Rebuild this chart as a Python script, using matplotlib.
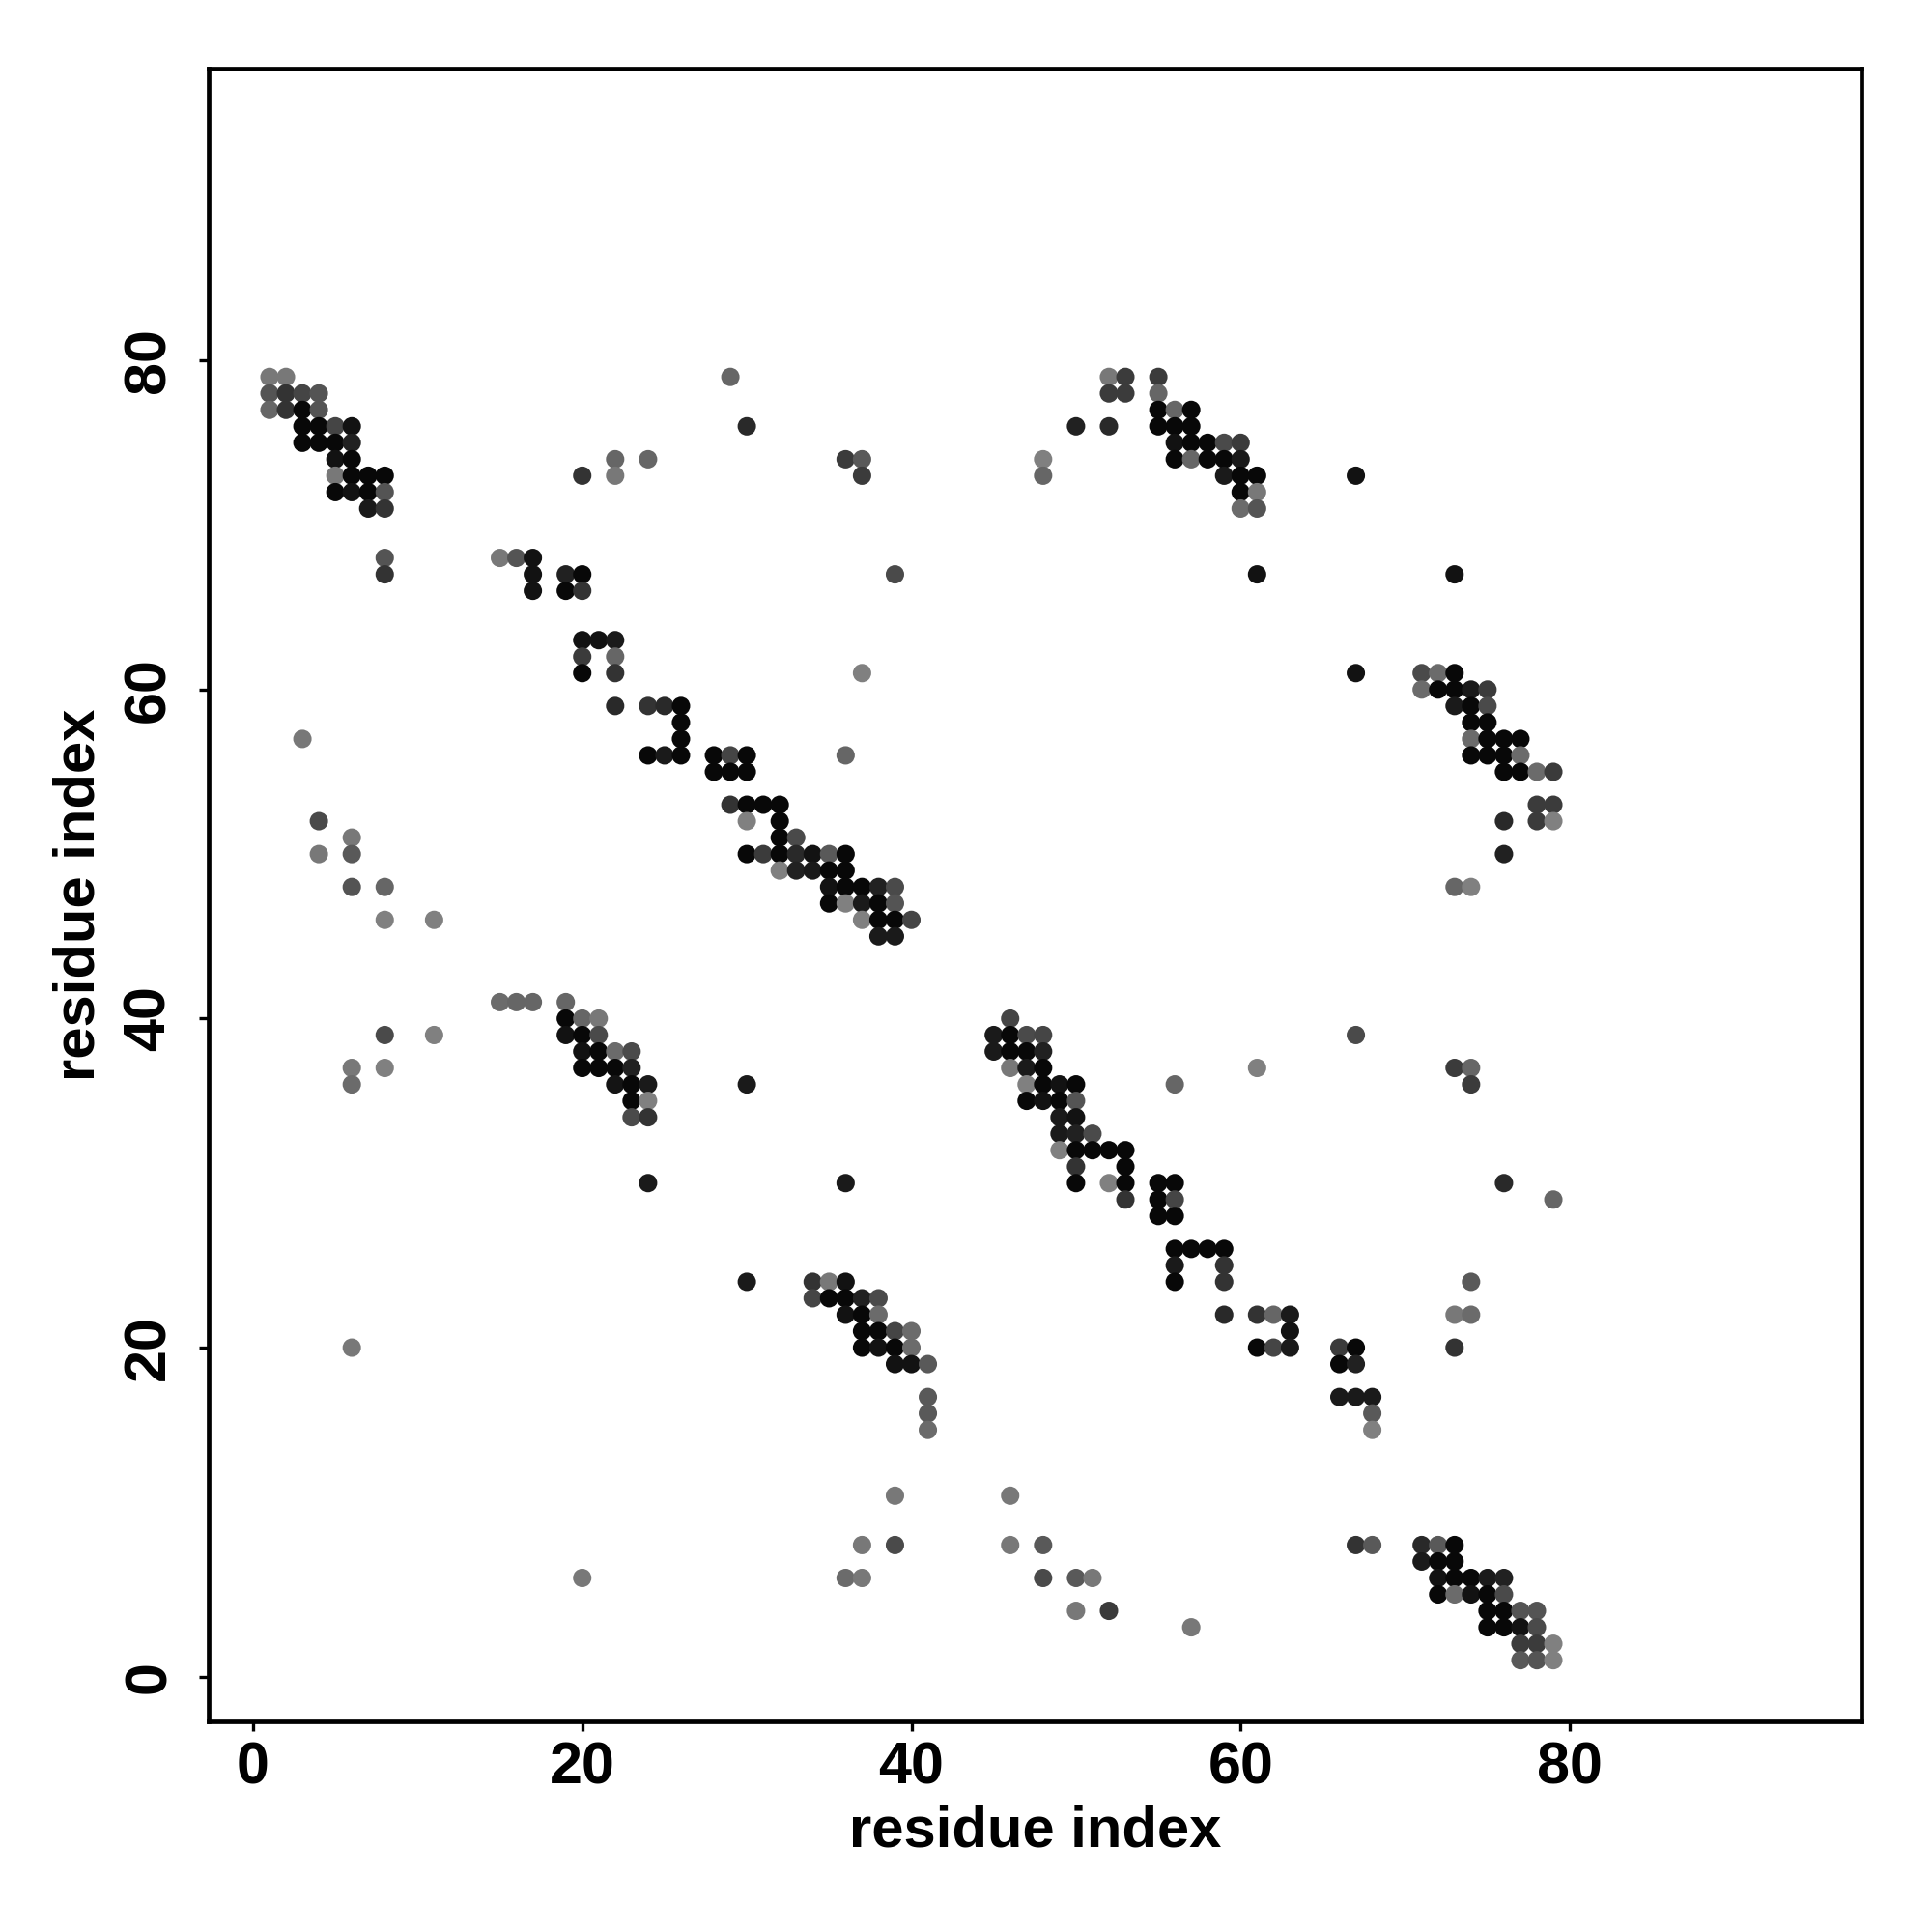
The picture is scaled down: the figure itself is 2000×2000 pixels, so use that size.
import numpy as np
import matplotlib
matplotlib.use("Agg")
import matplotlib.pyplot as plt

plt.rcParams['font.family'] = ['Liberation Sans', 'DejaVu Sans']

row_y = [79, 78, 77, 76, 75, 74, 73, 72, 71, 68, 67, 66, 63, 62, 61, 60, 59, 58, 57, 56,
         55, 53, 52, 51, 50, 49, 48, 47, 46, 45, 41, 40, 39, 38, 37, 36, 35, 34, 33, 32,
         31, 30, 29, 28, 26, 25, 24, 23, 22, 21, 20, 19, 17, 16, 15, 11, 8, 7, 6, 5,
         4, 3, 2, 1]

row_x = [
    [1, 2, 29, 52, 53, 55],
    [1, 2, 3, 4, 52, 53, 55],
    [1, 2, 3, 4, 55, 56, 57],
    [3, 4, 5, 6, 30, 50, 52, 55, 56, 57],
    [3, 4, 5, 6, 56, 57, 58, 59, 60],
    [5, 6, 22, 24, 36, 37, 48, 56, 57, 58, 59, 60],
    [5, 6, 7, 8, 20, 22, 37, 48, 59, 60, 61, 67],
    [5, 6, 7, 8, 60, 61],
    [7, 8, 60, 61],
    [8, 15, 16, 17],
    [8, 17, 19, 20, 39, 61, 73],
    [17, 19, 20],
    [20, 21, 22],
    [20, 22],
    [20, 22, 37, 67, 71, 72, 73],
    [71, 72, 73, 74, 75],
    [22, 24, 25, 26, 73, 74, 75],
    [26, 74, 75],
    [3, 26, 74, 75, 76, 77],
    [24, 25, 26, 28, 29, 30, 36, 74, 75, 76, 77],
    [28, 29, 30, 76, 77, 78, 79],
    [29, 30, 31, 32, 78, 79],
    [4, 30, 32, 76, 78, 79],
    [6, 32, 33],
    [4, 6, 30, 31, 32, 33, 34, 35, 36, 76],
    [32, 33, 34, 35, 36],
    [6, 8, 35, 36, 37, 38, 39, 73, 74],
    [35, 36, 37, 38, 39],
    [8, 11, 37, 38, 39, 40],
    [38, 39],
    [15, 16, 17, 19],
    [19, 20, 21, 46],
    [8, 11, 19, 20, 21, 45, 46, 47, 48, 67],
    [20, 21, 22, 23, 45, 46, 47, 48],
    [6, 8, 20, 21, 22, 23, 46, 47, 48, 61, 73, 74],
    [6, 22, 23, 24, 30, 47, 48, 49, 50, 56, 74],
    [23, 24, 47, 48, 49, 50],
    [23, 24, 49, 50],
    [49, 50, 51],
    [49, 50, 51, 52, 53],
    [50, 53],
    [24, 36, 50, 52, 53, 55, 56, 76],
    [53, 55, 56, 79],
    [55, 56],
    [56, 57, 58, 59],
    [56, 59],
    [30, 34, 35, 36, 56, 59, 74],
    [34, 35, 36, 37, 38],
    [36, 37, 38, 59, 61, 62, 63, 73, 74],
    [37, 38, 39, 40, 63],
    [6, 37, 38, 39, 40, 61, 62, 63, 66, 67, 73],
    [39, 40, 41, 66, 67],
    [41, 66, 67, 68],
    [41, 68],
    [41, 68],
    [39, 46],
    [37, 39, 46, 48, 67, 68, 71, 72, 73],
    [71, 72, 73],
    [20, 36, 37, 48, 50, 51, 72, 73, 74, 75, 76],
    [72, 73, 74, 75, 76],
    [50, 52, 75, 76, 77, 78],
    [57, 75, 76, 77, 78],
    [77, 78, 79],
    [77, 78, 79],
]

# grey level of each point (0 = black, 0.5 = mid grey)
row_shade = [
    [.47, .47, .40, .47, .23, .23],
    [.33, .20, .27, .33, .23, .23, .40],
    [.40, .20, .03, .33, .03, .40, .03],
    [.03, .03, .27, .07, .16, .13, .16, .03, .03, .03],
    [.03, .03, .03, .13, .07, .03, .03, .29, .23],
    [.07, .03, .40, .40, .23, .35, .50, .03, .40, .03, .03, .10],
    [.47, .03, .03, .03, .20, .47, .23, .40, .10, .03, .03, .07],
    [.03, .07, .03, .33, .03, .47],
    [.10, .20, .42, .33],
    [.33, .47, .33, .07],
    [.20, .07, .13, .03, .29, .07, .07],
    [.07, .03, .20],
    [.07, .07, .10],
    [.23, .40],
    [.03, .20, .50, .07, .29, .42, .03],
    [.42, .03, .03, .10, .23],
    [.16, .20, .16, .03, .10, .03, .29],
    [.03, .03, .03],
    [.47, .03, .42, .03, .03, .03],
    [.03, .10, .03, .03, .27, .03, .40, .03, .03, .03, .42],
    [.03, .03, .03, .03, .03, .42, .23],
    [.20, .03, .03, .03, .23, .23],
    [.29, .50, .03, .16, .23, .50],
    [.47, .03, .29],
    [.47, .35, .03, .23, .03, .16, .07, .35, .03, .13],
    [.50, .13, .10, .03, .03],
    [.33, .40, .07, .03, .03, .13, .29, .40, .50],
    [.03, .50, .10, .03, .33],
    [.50, .50, .50, .03, .03, .27],
    [.10, .10],
    [.42, .40, .40, .40],
    [.03, .40, .47, .27],
    [.29, .50, .07, .03, .29, .10, .03, .29, .27, .29],
    [.07, .03, .42, .29, .10, .03, .03, .13],
    [.47, .50, .03, .03, .03, .13, .47, .10, .03, .50, .23, .40],
    [.42, .08, .03, .10, .10, .50, .03, .07, .03, .40, .23],
    [.03, .50, .03, .07, .03, .33],
    [.29, .20, .10, .07],
    [.10, .13, .29],
    [.50, .03, .03, .03, .03],
    [.20, .03],
    [.10, .10, .03, .50, .03, .03, .03, .16],
    [.20, .03, .27, .40],
    [.03, .03],
    [.03, .03, .03, .03],
    [.10, .20],
    [.10, .20, .47, .07, .03, .20, .35],
    [.27, .03, .03, .13, .29],
    [.07, .03, .42, .16, .20, .40, .10, .47, .42],
    [.03, .03, .27, .42, .07],
    [.47, .03, .07, .03, .42, .03, .27, .10, .23, .03, .20],
    [.07, .07, .35, .03, .13],
    [.35, .10, .10, .10],
    [.35, .35],
    [.42, .50],
    [.47, .47],
    [.47, .29, .47, .35, .20, .35, .16, .35, .03],
    [.10, .03, .03],
    [.47, .42, .47, .29, .35, .47, .07, .03, .03, .10, .13],
    [.03, .42, .07, .03, .29],
    [.47, .23, .03, .03, .33, .33],
    [.47, .03, .03, .07, .29],
    [.23, .23, .50],
    [.35, .33, .50],
]

ticks = [0, 20, 40, 60, 80]

xs = np.concatenate([np.array(r, dtype=float) for r in row_x])
ys = np.concatenate([np.full(len(r), y, dtype=float) for r, y in zip(row_x, row_y)])
shades = np.concatenate([np.array(s) for s in row_shade])
colors = [(g, g, g) for g in shades]

fig = plt.figure(figsize=(10, 10), dpi=200)
ax = fig.add_axes([0.1078, 0.109, 0.8557, 0.8553])

ax.scatter(xs, ys, s=47, c=colors, edgecolors='none')

ax.set_xlim(-2.72, 97.72)
ax.set_ylim(-2.72, 97.72)
ax.set_xticks(ticks)
ax.set_yticks(ticks)
ax.set_xticklabels([str(t) for t in ticks], fontsize=22, fontweight='bold')
ax.set_yticklabels([str(t) for t in ticks], fontsize=22, fontweight='bold',
                   rotation=90, va='center')
ax.tick_params(direction='out', length=3.5, width=1.2, pad=4)
ax.tick_params(axis='y', pad=8)
for sp in ax.spines.values():
    sp.set_linewidth(1.7)

ax.set_xlabel("residue index", fontsize=21.5, fontweight='bold', labelpad=3)
ax.set_ylabel("residue index", fontsize=21.5, fontweight='bold', labelpad=6)

fig.savefig("out.png", dpi=200)
